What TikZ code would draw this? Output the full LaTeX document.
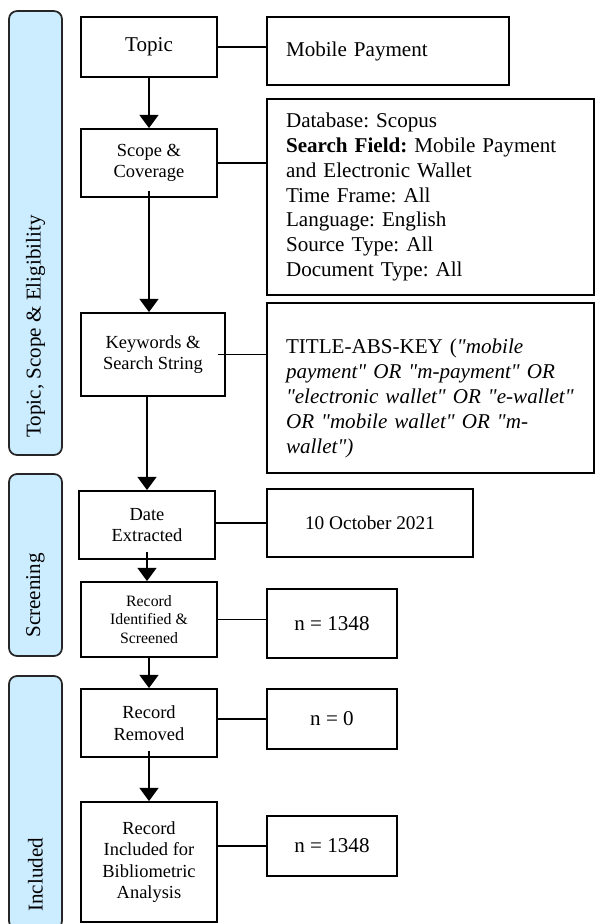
\documentclass[tikz,border=0pt]{standalone}
\usepackage{fontspec}
\setmainfont{Liberation Serif}[Ligatures=TeXOff]
\frenchspacing
\usetikzlibrary{arrows.meta}
\definecolor{phaseblue}{RGB}{204,236,255}
\tikzset{
    stagebox/.style={draw=black,line width=1pt,align=center,inner sep=2pt,font=\fontsize{10.5}{12.3}\selectfont},
    infobox/.style={draw=black,line width=1pt,align=left,inner xsep=0.38cm,font=\fontsize{12}{14.2}\selectfont},
    countbox/.style={draw=black,line width=1pt,align=center,font=\fontsize{12}{14.2}\selectfont},
    phasebar/.style={draw=black!85,line width=1pt,fill=phaseblue,rounded corners=0.16cm,minimum width=1.06cm},
    phaselabel/.style={rotate=90,anchor=west,font=\fontsize{12}{14}\selectfont},
    flow/.style={-{Triangle[length=7.5pt,width=10.5pt]},line width=1.6pt},
    link/.style={line width=1pt}
}
\begin{document}
\begin{tikzpicture}[x=0.02cm,y=-0.02cm]
        \useasboundingbox (0,0) rectangle (595,924);
        %PHASES
        \node[phasebar,minimum height=8.88cm] (ph1) at (35.5,233) {};
        \node[phaselabel] (ph1lbl) at ([yshift=0.24cm]ph1.south) {Topic, Scope \& Eligibility};
        \node[phasebar,minimum height=3.64cm] (ph2) at (35.5,565) {};
        \node[phaselabel] (ph2lbl) at ([yshift=0.26cm]ph2.south) {Screening};
        \node[phasebar,minimum height=5.06cm] (ph3) at (35.5,802.5) {};
        \node[phaselabel] (ph3lbl) at ([yshift=0.24cm]ph3.south) {Included};

        %STAGES
        \node[stagebox,minimum width=2.72cm,minimum height=1.2cm,font=\fontsize{12}{14}\selectfont] (topic) at (149,47) {Topic};
        \node[stagebox,minimum width=2.72cm,minimum height=1.36cm] (scope) at (149,163) {Scope \&\\Coverage};
        \node[stagebox,minimum width=2.88cm,minimum height=1.66cm] (keys) at (153,354.5) {Keywords \&\\Search String};
        \node[stagebox,minimum width=2.72cm,minimum height=1.36cm] (date) at (147,525) {Date\\Extracted};
        \node[stagebox,minimum width=2.72cm,minimum height=1.5cm,font=\fontsize{9}{10.5}\selectfont] (ident) at (149,619.5) {Record\\Identified \&\\Screened};
        \node[stagebox,minimum width=2.72cm,minimum height=1.36cm] (removed) at (149,723) {Record\\Removed};
        \node[stagebox,minimum width=2.72cm,minimum height=2.4cm] (incl) at (149,862) {Record\\Included for\\Bibliometric\\Analysis};

        %DETAILS
        \node[infobox,text width=4.08cm,minimum height=1.36cm] (mobile) at (388,51) {Mobile Payment};
        \node[infobox,text width=5.78cm,minimum height=3.92cm] (db) at (430.5,197) {Database: Scopus\\\textbf{Search Field:} Mobile Payment\\and Electronic Wallet\\Time Frame: All\\Language: English\\Source Type: All\\Document Type: All};
        \node[infobox,text width=5.78cm,minimum height=3.4cm] (title) at (430.5,388) {\rule{0pt}{20pt}TITLE-ABS-KEY (\textit{"mobile\\payment" OR "m-payment" OR\\"electronic wallet" OR "e-wallet"\\OR "mobile wallet" OR "m-\\wallet")}};
        \node[countbox,minimum width=4.12cm,minimum height=1.36cm,font=\fontsize{11}{13}\selectfont] (extracted) at (370,523) {10 October 2021};
        \node[countbox,minimum width=2.6cm,minimum height=1.38cm] (nfound) at (332,623.5) {n = 1348};
        \node[countbox,minimum width=2.6cm,minimum height=1.2cm] (nremoved) at (332,719) {n = 0};
        \node[countbox,minimum width=2.6cm,minimum height=1.2cm] (nincl) at (332,846) {n = 1348};

        %FLOW
        \draw[flow] (topic.south) -- (scope.north);
        \draw[flow] ([yshift=0.14cm]scope.south) -- (keys.north -| scope.south);
        \draw[flow] (keys.south -| date.north) -- (date.north);
        \draw[flow] ([yshift=0.16cm]date.south) -- (ident.north -| date.south);
        \draw[flow] (ident.south) -- (removed.north);
        \draw[flow] ([yshift=0.14cm]removed.south) -- (incl.north);

        %LINKS
        \draw[link] (topic.east) -- (topic.east -| mobile.west);
        \draw[link] (scope.east) -- (scope.east -| db.west);
        \draw[link] ([xshift=-0.16cm]keys.east) -- (keys.east -| title.west);
        \draw[link] (date.east |- extracted.west) -- (extracted.west);
        \draw[link] (ident.east) -- (ident.east -| nfound.west);
        \draw[link] (removed.east |- nremoved.west) -- (nremoved.west);
        \draw[link] (incl.east |- nincl.west) -- (nincl.west);
    \end{tikzpicture}
\end{document}
